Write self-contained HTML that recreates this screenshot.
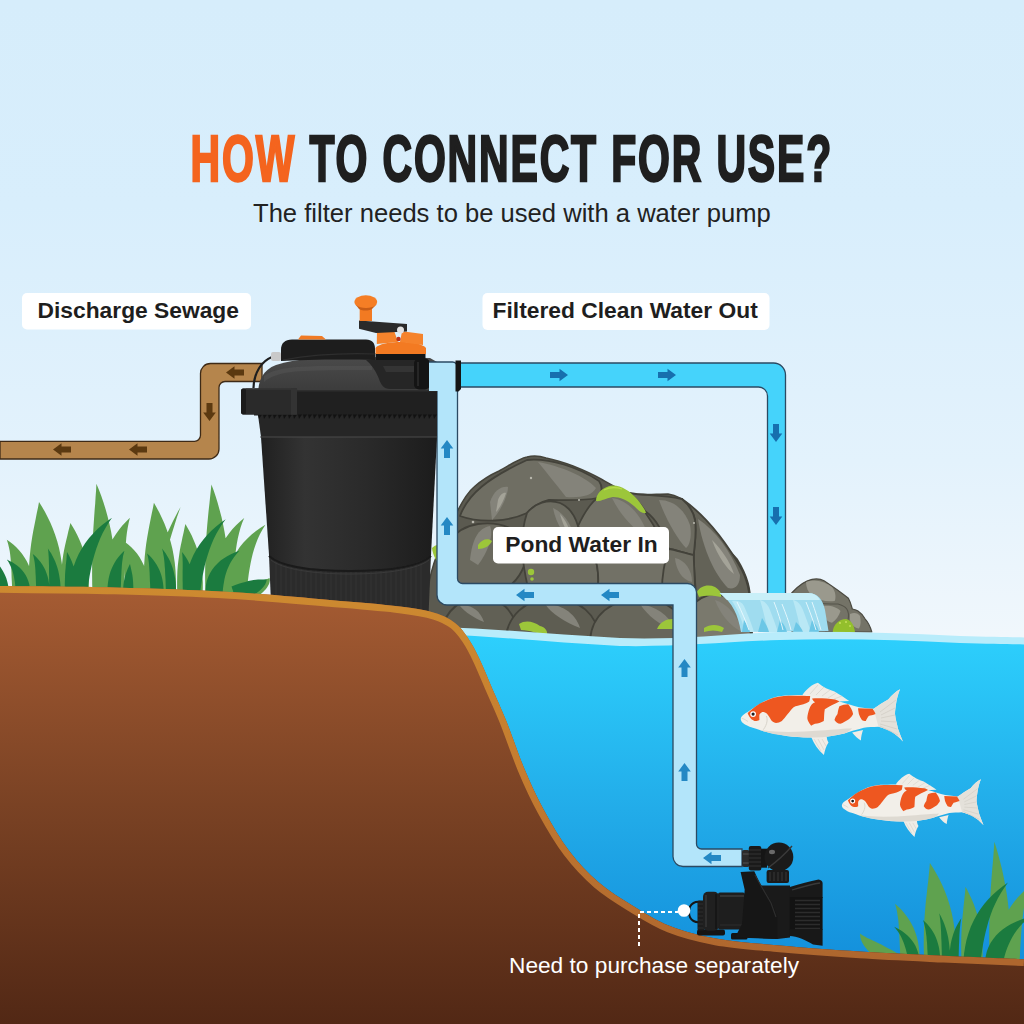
<!DOCTYPE html>
<html><head><meta charset="utf-8">
<style>
html,body{margin:0;padding:0;width:1024px;height:1024px;overflow:hidden;background:#dcedf9}
svg{display:block;position:absolute;left:0;top:0}
.t{font-family:"Liberation Sans",sans-serif}
</style></head><body>
<svg width="1024" height="1024" viewBox="0 0 1024 1024">
<defs>
 <linearGradient id="sky" x1="0" y1="0" x2="0" y2="1">
  <stop offset="0" stop-color="#d6edfb"/>
  <stop offset="0.2" stop-color="#d8eefc"/>
  <stop offset="0.45" stop-color="#e3f2fc"/>
  <stop offset="0.62" stop-color="#f0f7fc"/>
  <stop offset="1" stop-color="#f4f9fc"/>
 </linearGradient>
 <linearGradient id="water" x1="0" y1="0" x2="0" y2="1">
  <stop offset="0" stop-color="#2dd0fd"/>
  <stop offset="0.45" stop-color="#22ace9"/>
  <stop offset="1" stop-color="#0e84d6"/>
 </linearGradient>
 <linearGradient id="soil" x1="0" y1="0" x2="0" y2="1">
  <stop offset="0" stop-color="#a65c33"/>
  <stop offset="0.5" stop-color="#7a4224"/>
  <stop offset="1" stop-color="#522815"/>
 </linearGradient>
 <linearGradient id="body" x1="0" y1="0" x2="1" y2="0">
  <stop offset="0" stop-color="#202020"/>
  <stop offset="0.25" stop-color="#333333"/>
  <stop offset="0.6" stop-color="#2a2a2a"/>
  <stop offset="1" stop-color="#1c1c1c"/>
 </linearGradient>
 <linearGradient id="dome" x1="0" y1="0" x2="0" y2="1"><stop offset="0" stop-color="#4a4a4a"/><stop offset="0.5" stop-color="#3e3e3e"/><stop offset="1" stop-color="#333"/></linearGradient>
 <linearGradient id="fall" x1="0" y1="0" x2="0" y2="1">
  <stop offset="0" stop-color="#bdeaf6"/>
  <stop offset="1" stop-color="#5cc6ec"/>
 </linearGradient>
 <linearGradient id="rim" gradientUnits="userSpaceOnUse" x1="0" y1="586" x2="0" y2="960"><stop offset="0" stop-color="#cd8a30"/><stop offset="0.5" stop-color="#c47c30"/><stop offset="1" stop-color="#ae662e"/></linearGradient>
 <clipPath id="groundclip"><path d="M0,586 C19.2,586.2 76.7,586.5 115,587.5 C153.3,588.5 194.2,589.9 230,592 C265.8,594.1 301.7,597.6 330,600 C358.3,602.4 382.5,604.3 400,606.5 C417.5,608.7 425.8,610.2 435,613 C444.2,615.8 449.5,618.8 455,623 C460.5,627.2 463.9,632.0 468,638 C472.1,644.0 475.5,650.6 479.5,659 C483.5,667.4 487.8,678.2 492.2,688.4 C496.6,698.6 500.5,706.6 505.9,720 C511.3,733.4 518.1,753.8 524.4,768.8 C530.7,783.8 536.4,796.3 543.9,810 C551.4,823.7 560.2,839.0 569.3,851 C578.4,863.0 588.0,873.2 598.6,882.3 C609.2,891.4 620.9,898.4 632.8,905.7 C644.7,913.0 656.1,920.5 670,926 C683.9,931.5 697.7,935.2 716,938.5 C734.3,941.8 756.0,943.3 780,945.5 C804.0,947.7 832.7,949.8 860,951.5 C887.3,953.2 916.7,954.5 944,955.8 C971.3,957.1 1010.7,958.7 1024,959.3 L1024,1024 L0,1024 Z"/></clipPath>
 <g id="koi">
  <path d="M72.4,25 C76,20 82,14 87.9,12.8 C93,17 99,20 104.5,21.6 C110,25 115,28 119.2,31 L100,32 Z" fill="#efece6"/>
  <g stroke="#d6d2ca" stroke-width="0.7" fill="none"><path d="M80,24 L88,15 M86,25 L94,17 M92,26 L100,20 M98,28 L106,23 M104,29 L112,26"/></g>
  <path d="M81.2,67 C84,74 88,80 93.9,85.1 C95,80 96,76 98.5,72.5 C97,70 97,69 96.8,67 Z" fill="#efece6"/>
  <g stroke="#d6d2ca" stroke-width="0.7" fill="none"><path d="M84,69 L91,81 M88,69 L94,80 M92,69 L96,76"/></g>
  <path d="M122.1,62.5 C125,66 128,69 130.9,70.4 C131,67 132,63 133,60 Z" fill="#efece6"/>
  <path d="M11.3,47 C13,45 15,43.5 17.7,42.1 C22,39 26,36 29.4,34.3 C34,31 39,29 44,27.5 C49,26 54,25.5 58.7,25.5 C65,25 70,25 73.4,25 C85,25.5 98,28 109.4,31.4 C116,33.5 123,35.5 129,37.2 C134,38 139,38.5 143.6,38.7 C148,36 153,32 158.2,29.4 C162,25 166,21 170,19.2 C168,24 166.5,30 166,34.3 C165.5,38 165,41 165,44 C165.5,49 167,54 168,58.7 C169.5,63 171,67 172.9,71.4 C169,67 165,64 161.2,61.6 C157,59.5 152,57.5 148.5,56.8 C143,57 138,57.2 133.8,57.7 C127,59.5 120,61.5 114.3,63.6 C105,66 95,67.5 85,67.5 C80,67.5 76,67.5 73.4,67.5 C65,67 59,66.5 53.8,65.5 C46,64 40,63 34.3,61.6 C28,59.5 24,58 19.6,56.8 C16,55 13.5,53.5 11.8,51.9 C10.5,50 10.5,48.5 11.3,47 Z" fill="#f2efe9"/>
  <path d="M148.5,56.8 C152,57.5 157,59.5 161.2,61.6 C165,64 169,67 172.9,71.4 C171,67 169.5,63 168,58.7 C167,54 165.5,49 165,44 C165,41 165.5,38 166,34.3 C166.5,30 168,24 170,19.2 C166,21 162,25 158.2,29.4 C153,32 148,36 143.6,38.7 Z" fill="#e4e1da"/>
  <g stroke="#d0ccc3" stroke-width="0.7" fill="none"><path d="M150,42 L166,30 M151,45 L165,38 M151,48 L165,45 M151,51 L166,52 M150,54 L167,59 M150,56 L168,65"/></g>
  <path d="M30,60 C50,63 70,62 90,60.5 C105,59.5 115,58.5 122.1,58.2 C120,61 117,62.5 114.3,63.6 C105,66 95,67.5 85,67.5 C75,67.5 65,67 53.8,65.5 C45,64.5 37,62.5 30,60 Z" fill="#dedad2"/>
  <path d="M17.7,43.1 C23,38 29,33.5 34.3,31.4 C40,28.5 47,26.5 53.8,26 C62,25.5 72,25.8 80.2,26 C80,28 79.8,30 79.2,31.4 C77,32.8 75,33.6 73.4,34.3 C69,35.5 66,36 63.6,37.2 C61,39.5 59.5,42 57.7,44.1 C55.5,47 53.5,49.5 51.9,50.9 C50,52 48,52.9 46,52.9 C43.5,52.5 42,51 41.1,49.9 C39.5,47.5 38.5,45.5 37.2,44.1 C35.5,42.5 34,42 32.3,42.1 C30.5,43 29.6,44 29.4,45 C29.2,47 29.5,48.5 29.4,49.9 C27.5,51 26,51 24.5,50.9 C22,50 20.5,48.5 19.6,47 C18.5,45.5 18,44.3 17.7,43.1 Z" fill="#ee5720"/>
  <path d="M82.1,28.4 C90,28 98,28.5 105,29.5 C107,30 108.5,30.8 109.4,31.4 C104,34 99,36.5 94.8,39.2 C94,43 94.3,47 93.8,50.9 C91,52.5 88,53.5 85,53.8 C83.5,54.5 82,55.2 81.2,55.8 C79,53 77.5,50.5 77.3,48 C77.5,44.5 78.5,41.5 79.2,39.2 C80.5,36 82,33 85.1,32.3 C83.5,31 82.5,29.5 82.1,28.4 Z" fill="#ee5720"/>
  <path d="M109.4,36.3 C112,35 115.5,34.5 118.2,34.3 C120.5,37 122.5,40.5 123.1,44 C122,46 121,47.5 119.2,49 C116,51 113,52.8 110.4,53.8 C107.5,53.5 105.5,51.5 104.5,49.9 C105,47.5 106.5,45.5 107.5,44 C108,41 108.5,38.5 109.4,36.3 Z" fill="#ee5720"/>
  <path d="M128,38.2 C133,38.5 138,38.7 142.6,38.7 C144,40.5 145,42.5 145.5,44 C143,45 140.5,45.5 138.7,46 C137.5,47.5 136.5,49.5 135.8,50.9 C134.5,51 133,50.5 131.9,49.9 C130.5,48 129.5,46 128.9,44 C128.5,42 128.2,40 128,38.2 Z" fill="#ee5720"/>
  <path d="M36.3,46 C37.8,49 37.5,54 33.3,59.7" fill="none" stroke="#d8d4cb" stroke-width="1"/>
  <path d="M11.5,48 C14,49 16,50 18,51.5" fill="none" stroke="#d8d4cb" stroke-width="0.8"/>
  <circle cx="23.1" cy="44.1" r="2.9" fill="#fff"/>
  <circle cx="23.1" cy="44.1" r="1.6" fill="#1e1e1e"/>
 </g>
 <path id="arrU" d="M0,-9 L6.3,-0.5 L3,-0.5 L3,9 L-3,9 L-3,-0.5 L-6.3,-0.5 Z"/>
</defs>
<rect width="1024" height="1024" fill="url(#sky)"/>
<!-- ROCKS -->
<g id="rocks" stroke-linejoin="round">
 <path d="M425,640 L428,590 C431,565 440,545 457,512 C463,500 468,492 474,487 C482,480 490,475 499,471 C510,465 518,459 527,457 C535,455 540,456 546,458 C556,460 565,463 573,466 C583,470 592,474 601,479 C610,484 620,490 629,493 C640,496 655,494 668,494 C675,495 678,497 682,499 C688,504 693,509 698,514 C705,522 711,530 717,538 C725,546 731,552 737,559 C742,567 746,576 748,583 C750,590 752,600 752,640 Z" fill="#5b5a50" stroke="#45443b" stroke-width="1.5"/>
 <g stroke="#43423a" stroke-width="1.8">
  <!-- A top big -->
  <path d="M460,516 C468,494 488,478 527,460 C550,458 578,467 599,481 C603,487 602,493 597,498 C585,501 565,500 549,500 C536,503 531,509 527,513 C510,521 482,524 460,516 Z" fill="#6f6e63"/>
  <!-- B left -->
  <path d="M438,575 C442,548 452,528 478,524 C503,521 518,530 525,542 C530,562 520,582 500,592 C478,598 452,592 438,575 Z" fill="#6a695e"/>
  <!-- C middle -->
  <path d="M527,513 C535,503 548,499 560,503 C570,507 575,516 578,526 C590,541 600,561 598,586 L528,588 C522,562 519,537 527,513 Z" fill="#6d6c61"/>
  <!-- D right-middle -->
  <path d="M578,526 C585,511 592,501 600,496 C615,491 635,499 645,512 C655,526 665,546 670,566 C672,576 670,584 665,586 L598,586 C600,561 590,541 578,526 Z" fill="#727166"/>
  <!-- E right big -->
  <path d="M682,499 C705,515 725,540 742,570 C748,582 751,592 752,640 L700,640 C697,600 694,580 693.75,555 C694,548 697,535 695,520 C693,510 688,504 682,499 Z" fill="#636257"/>
  <path d="M629,493 C645,496 660,494 682,499 C688,504 693,510 695,520 C697,535 694,548 693.75,555 C685,553 675,550 668.75,548.75 C664,535 658,520 645,511 C640,503 635,498 629,493 Z" fill="#6b6a5f"/>
  <path d="M668.75,548.75 C675,550 685,553 693.75,555 C694,570 695,580 695,590 L662,590 C662,575 665,560 668.75,548.75 Z" fill="#6f6e63"/>
  <!-- bottom row -->
  <path d="M440,640 C442,618 452,602 475,598 C500,596 515,608 520,640 Z" fill="#616055"/>
  <path d="M505,640 C508,615 525,600 550,598 C580,598 598,615 600,640 Z" fill="#5e5d52"/>
  <path d="M590,640 C592,615 610,600 640,598 C668,598 685,615 690,640 Z" fill="#67665b"/>
  <path d="M680,640 C682,612 695,596 715,594 C735,596 748,612 752,640 Z" fill="#7a796d"/>
 </g>
 <!-- highlights -->
 <g fill="#84837a">
  <path d="M538,462 C560,466 585,476 596,488 C592,496 580,498 566,497 C556,484 546,472 538,462 Z"/>
  <path d="M470,560 C472,540 478,528 490,526 C494,535 488,552 478,565 Z"/>
  <path d="M490,502 C494,490 502,486 508,487 C508,496 500,512 492,520 Z"/>
  <path d="M553,508 C566,514 574,528 577,548 C566,540 556,524 553,508 Z"/>
  <path d="M612,498 C628,500 642,515 650,540 C636,532 620,515 612,498 Z"/>
  <path d="M659,500 C672,500 684,508 690,525 C692,535 690,545 686,548 C678,540 666,520 659,500 Z"/>
  <path d="M698,519 C715,530 730,550 740,575 C740,585 735,590 728,588 C715,575 703,550 698,519 Z"/>
  <path d="M675,558 C685,560 692,570 692,582 C682,580 676,570 675,558 Z"/>
  <path d="M545,604 C560,604 575,612 580,628 C565,622 552,614 545,604 Z"/>
  <path d="M640,604 C655,606 668,614 676,630 C660,626 648,616 640,604 Z"/>
  <path d="M715,600 C728,604 738,616 742,632 C730,626 720,614 715,600 Z"/>
  <path d="M460,606 C470,604 480,610 484,622 C474,618 465,612 460,606 Z"/>
 </g>
 <g fill="#a4a398">
  <path d="M498,500 C500,494 504,492 506,493 C504,500 500,508 496,512 Z"/>
  <path d="M560,514 C566,520 570,530 572,538 C566,532 562,522 560,514 Z"/>
  <path d="M712,540 C722,550 730,562 734,574 C728,570 718,557 712,540 Z"/>
 </g>
 <!-- moss -->
 <g fill="#9cc63a">
  <path d="M596,501 C596,493 603,487 612,485.5 C621,485 630,491 637,499 C641,504 645,509 646,513 C642,514 638,510 634,506 C627,500 620,497 613,497 C606,498 600,502 596,501 Z"/>
  <path d="M604,490 C610,487 616,487 622,489" fill="none" stroke="#b7dc4a" stroke-width="1.2"/>
  <path d="M432,548 C436,544 440,544 441,548 L441,565 C437,563 433,556 432,548 Z"/>
  <path d="M478,545 C482,539 488,538 492,541 C490,546 484,549 478,549 Z"/>
  <circle cx="531" cy="572" r="3.2"/>
  <circle cx="532" cy="579" r="1.8"/>
  <path d="M519,624 C525,620 533,621 540,626 C545,627 548,631 547,635 C538,634 530,630 521,630 Z"/>
  <path d="M697,592 C700,586 708,584 715,587 C720,590 722,594 721,597 C715,596 707,595 699,597 Z"/>
  <path d="M704,628 C710,624 718,624 724,628 L722,632 C716,630 710,630 704,632 Z"/>
  <path d="M657,629 C660,622 666,619 673,619 L673,629 Z"/>
 </g>
 <!-- small specks -->
 <g fill="#b9b8ae">
  <circle cx="531" cy="478" r="1.2"/><circle cx="473" cy="522" r="1.3"/><circle cx="694" cy="523" r="1"/><circle cx="579" cy="500" r="1"/>
 </g>
 <!-- right small rock -->
 <path d="M791.7,593 C797,587 804,581 812,579.3 C817,578.5 821,579 824,580.7 C832,586 842,593 848.4,598.3 C850.5,602 851.5,606 852.3,609 C854.5,609.5 856.5,610 858,611 C861,613 863.5,616 865,618.8 C868,622 870.5,627 871.8,632 L792,632 Z" fill="#747367" stroke="#4b4a41" stroke-width="1.2"/>
 <path d="M806,582 C815,579 824,581 832,587 C836,592 836,598 834.7,601 C826,602 818,600 812,596 C808,592 806,587 806,582 Z" fill="#9a998d"/>
 <path d="M823,606 C830,605 837,607 840.5,611 C839,616 836,620 832,622.7 C827,622 824,618 823,612 Z" fill="#9a998d"/>
 <path d="M850,614 C854,612 858,613 860,616 C861,621 861,625 859,628.6 C855,628 851,625 850,620 Z" fill="#9a998d"/>
 <g fill="none" stroke="#55544a" stroke-width="1.1">
  <path d="M818,603 C822,604 830,604 838,604 C846,606 850,610 848,620 C846,626 844,630 843,632"/>
  <path d="M820,604 C821,612 822,622 826,632"/>
 </g>
 <path d="M832.7,632 C833,625 839,619 846,619 C851,620 854,625 855,632 Z" fill="#93bf2c"/>
 <g fill="#c4e05a"><circle cx="840" cy="623" r="1"/><circle cx="846" cy="622" r="1"/><circle cx="850" cy="626" r="0.9"/></g>
</g>
<!-- WATERFALL -->
<path d="M719.6,593 L808,593 C818,593 823,600 825,610 L828.5,631 L741,632 C738,615 733,603 719.6,593 Z" fill="#9fdcef"/>
<path d="M719.6,593 L808,593 C814,593 818,596 820,600 L727,600 C724,597 722,595 719.6,593 Z" fill="#c9eff8"/>
<g fill="#b9e8f5">
 <path d="M732,601 C738,600 742,602 744,606 C748,615 752,625 754,632 L745,632 C742,620 738,610 732,601 Z"/>
 <path d="M760,600 C765,601 768,605 770,610 C773,618 776,626 778,632 L768,632 C766,622 763,610 760,600 Z"/>
 <path d="M793,600 C798,601 801,605 803,610 C806,618 809,626 811,632 L801,632 C799,622 796,610 793,600 Z"/>
</g>
<g fill="#6cc7e6">
 <path d="M744,620 C747,624 749,628 750,632 L742,632 Z"/>
 <path d="M762,618 C766,624 768,628 769,632 L758,632 Z"/>
 <path d="M780,620 C784,624 786,628 787,632 L777,632 Z"/>
 <path d="M796,622 C800,626 802,629 803,632 L793,632 Z"/>
 <path d="M812,620 C816,624 818,628 819,632 L809,632 Z"/>
</g>
<g fill="none" stroke="#eafaff" stroke-width="1" opacity="0.9">
 <path d="M737,602 C742,612 746,622 749,630"/>
 <path d="M774,602 C778,612 781,622 783,630"/>
 <path d="M782,604 C786,614 789,622 791,630"/>
 <path d="M806,602 C810,612 813,620 816,630"/>
 <path d="M812,602 C815,610 818,620 821,630"/>
</g>
<!-- CYAN PIPE -->
<path d="M460,363 H773.5 A12,12 0 0 1 785.5,375 V593 H767.5 V396 A9,9 0 0 0 758.5,387 H460 Z" fill="#45d3fb"/>
<path d="M460,363 H773.5 A12,12 0 0 1 785.5,375 V593 M767.5,593 V396 A9,9 0 0 0 758.5,387 H460" fill="none" stroke="#2b4a63" stroke-width="1.3"/>
<g fill="#176fae">
 <use href="#arrU" transform="translate(559,375) rotate(90)"/>
 <use href="#arrU" transform="translate(667,375) rotate(90)"/>
 <use href="#arrU" transform="translate(776,433) rotate(180)"/>
 <use href="#arrU" transform="translate(776,516) rotate(180)"/>
</g>

<!-- WATER -->
<path d="M440,627 C500,629 560,635 620,638 C680,640 720,634 780,632 C840,631 900,633 960,636 C990,637 1010,637 1024,637.5 L1024,1024 L440,1024 Z" fill="#b8ecfb"/>
<path d="M440,634 C500,637 560,643 620,646 C680,647 720,642 780,640 C840,638 900,640 960,643 C990,644 1010,644 1024,644.5 L1024,1024 L440,1024 Z" fill="url(#water)"/>

<!-- FISH -->
<use href="#koi" transform="translate(730,670)"/>
<use href="#koi" transform="translate(832.5,762.6) scale(0.873)"/>

<!-- LIGHT PIPE -->
<path d="M437,388 V595 A10,10 0 0 0 447,605 H673 V856 A10,10 0 0 0 683,866.5 H742 V849 H701.5 A5,5 0 0 1 696.5,844 V592 A9,9 0 0 0 687.5,583.5 H462.5 A5,5 0 0 1 457.5,578.5 V388 Z" fill="#b3e5fa" stroke="#2b4a63" stroke-width="1.3"/>

<g fill="#2488c4">
 <use href="#arrU" transform="translate(447,449)"/>
 <use href="#arrU" transform="translate(447,526)"/>
 <use href="#arrU" transform="translate(525,595) rotate(-90)"/>
 <use href="#arrU" transform="translate(610,595) rotate(-90)"/>
 <use href="#arrU" transform="translate(684.5,668)"/>
 <use href="#arrU" transform="translate(684.5,772)"/>
 <use href="#arrU" transform="translate(712,858) rotate(-90)"/>
</g>

<!-- BROWN PIPE -->
<path d="M0,441.3 H194 A6,6 0 0 0 200.5,435.3 V374 A10,10 0 0 1 210.5,363.5 H262 V381.5 H225 A6,6 0 0 0 219,387.5 V449 A10,10 0 0 1 209,459 H0 Z" fill="#b5854c" stroke="#3e2a16" stroke-width="1.3"/>
<g fill="#5b3910">
 <use href="#arrU" transform="translate(62,449.5) rotate(-90)"/>
 <use href="#arrU" transform="translate(138,449.5) rotate(-90)"/>
 <use href="#arrU" transform="translate(235,372.5) rotate(-90)"/>
 <use href="#arrU" transform="translate(209.5,412) rotate(180)"/>
</g>

<!-- GRASS LEFT -->
<g id="grassL">
<path fill="#5fa24f" d="M33.5,594.0 L33.6,588.9 L33.3,583.9 L32.7,579.0 L31.7,574.3 L30.4,569.7 L28.8,565.4 L26.8,561.3 L24.5,557.4 L22.0,553.7 L19.3,550.4 L16.3,547.3 L13.3,544.5 L10.1,542.0 L6.8,539.7 L6.8,539.7 L8.0,543.4 L8.9,547.2 L9.7,551.0 L10.2,554.7 L10.6,558.5 L10.9,562.2 L11.1,565.9 L11.3,569.7 L11.5,573.5 L11.6,577.4 L11.8,581.3 L12.0,585.4 L12.2,589.6 L12.5,594.0Z M62.8,594.0 L63.1,585.8 L63.0,577.8 L62.5,570.1 L61.7,562.6 L60.5,555.3 L59.1,548.3 L57.3,541.5 L55.2,535.0 L52.9,528.8 L50.4,522.8 L47.7,517.2 L44.9,511.8 L42.0,506.8 L39.0,502.0 L39.0,502.0 L38.0,507.5 L36.8,513.1 L35.7,518.8 L34.5,524.7 L33.3,530.8 L32.2,537.1 L31.2,543.5 L30.4,550.1 L29.7,556.9 L29.2,563.8 L28.8,571.1 L28.7,578.5 L28.8,586.1 L29.2,594.0Z M88.7,594.0 L88.9,587.7 L88.8,581.6 L88.5,575.6 L87.8,569.8 L87.0,564.2 L85.8,558.8 L84.5,553.6 L82.9,548.5 L81.1,543.7 L79.1,539.1 L77.1,534.8 L74.9,530.6 L72.7,526.7 L70.4,523.0 L70.4,523.0 L69.4,527.2 L68.3,531.5 L67.3,535.9 L66.2,540.5 L65.1,545.2 L64.1,550.0 L63.2,554.9 L62.5,560.0 L61.9,565.3 L61.4,570.7 L61.1,576.3 L61.0,582.0 L61.0,587.9 L61.4,594.0Z M115.5,594.0 L115.7,584.3 L115.6,574.8 L115.2,565.6 L114.6,556.7 L113.6,548.0 L112.5,539.7 L111.1,531.6 L109.4,523.8 L107.6,516.4 L105.6,509.2 L103.5,502.4 L101.2,495.8 L98.8,489.6 L96.4,483.7 L96.4,483.7 L96.1,490.0 L95.6,496.6 L95.2,503.4 L94.6,510.4 L94.1,517.7 L93.6,525.1 L93.1,532.9 L92.7,540.8 L92.4,549.0 L92.2,557.5 L92.1,566.2 L92.1,575.2 L92.2,584.5 L92.5,594.0Z M123.5,594.0 L123.9,587.7 L124.1,581.5 L124.4,575.6 L124.6,569.8 L124.8,564.2 L125.0,558.8 L125.2,553.4 L125.5,548.1 L125.9,542.9 L126.3,537.8 L126.9,532.7 L127.7,527.7 L128.7,522.7 L129.9,517.8 L129.9,517.8 L126.2,521.4 L122.6,525.2 L119.2,529.4 L116.0,533.9 L112.9,538.7 L110.2,543.8 L107.7,549.3 L105.6,555.0 L103.8,560.9 L102.3,567.1 L101.3,573.6 L100.6,580.2 L100.3,587.0 L100.5,594.0Z M148.6,594.0 L148.7,588.9 L148.4,583.8 L147.8,578.9 L146.8,574.2 L145.5,569.6 L143.8,565.3 L141.8,561.2 L139.6,557.3 L137.0,553.6 L134.2,550.3 L131.3,547.2 L128.2,544.5 L125.0,541.9 L121.7,539.7 L121.7,539.7 L122.6,543.5 L123.3,547.3 L123.8,551.1 L124.2,554.8 L124.3,558.6 L124.5,562.3 L124.5,566.0 L124.6,569.8 L124.6,573.6 L124.7,577.4 L124.8,581.4 L124.9,585.5 L125.1,589.7 L125.5,594.0Z M175.8,594.0 L176.0,585.9 L175.9,578.0 L175.5,570.4 L174.8,562.9 L173.7,555.8 L172.4,548.8 L170.7,542.1 L168.8,535.7 L166.7,529.5 L164.4,523.6 L161.9,518.0 L159.3,512.6 L156.6,507.6 L153.9,502.8 L153.9,502.8 L152.9,508.2 L151.7,513.7 L150.6,519.3 L149.4,525.2 L148.3,531.2 L147.2,537.4 L146.2,543.7 L145.4,550.3 L144.7,557.1 L144.2,564.0 L143.9,571.2 L143.8,578.6 L143.9,586.2 L144.2,594.0Z M153.5,595.0 L155.8,587.4 L158.0,580.1 L160.1,572.9 L162.1,565.9 L164.1,559.1 L166.1,552.6 L168.0,546.2 L169.9,540.0 L171.7,534.0 L173.5,528.2 L175.3,522.5 L177.0,517.1 L178.8,511.9 L180.6,506.9 L180.6,506.9 L178.0,511.6 L175.4,516.4 L172.8,521.5 L170.2,526.9 L167.6,532.4 L165.1,538.2 L162.6,544.3 L160.1,550.5 L157.7,557.0 L155.3,563.8 L153.0,570.7 L150.8,577.9 L148.6,585.3 L146.5,593.0Z M202.6,594.0 L202.8,587.8 L202.8,581.7 L202.4,575.9 L201.8,570.2 L201.0,564.6 L199.9,559.3 L198.6,554.2 L197.2,549.2 L195.5,544.5 L193.6,539.9 L191.7,535.6 L189.6,531.5 L187.5,527.7 L185.4,524.0 L185.4,524.0 L184.5,528.1 L183.6,532.4 L182.6,536.7 L181.7,541.2 L180.7,545.8 L179.8,550.6 L179.1,555.4 L178.4,560.5 L177.8,565.7 L177.4,571.0 L177.2,576.5 L177.1,582.1 L177.1,588.0 L177.4,594.0Z M228.6,594.0 L228.8,584.4 L228.7,575.0 L228.3,565.9 L227.7,557.0 L226.9,548.5 L225.9,540.2 L224.6,532.2 L223.1,524.4 L221.5,517.0 L219.6,509.9 L217.7,503.1 L215.7,496.5 L213.6,490.3 L211.4,484.4 L211.4,484.4 L210.8,490.6 L210.1,497.1 L209.4,503.8 L208.6,510.8 L207.9,518.0 L207.2,525.4 L206.6,533.1 L206.1,541.0 L205.7,549.2 L205.4,557.6 L205.2,566.3 L205.1,575.3 L205.2,584.5 L205.4,594.0Z M232.5,594.0 L232.8,587.7 L233.1,581.7 L233.5,575.8 L233.9,570.1 L234.3,564.5 L234.8,559.0 L235.4,553.7 L236.1,548.4 L236.9,543.2 L237.9,538.0 L239.1,532.9 L240.5,527.8 L242.2,522.8 L244.2,517.9 L244.2,517.9 L240.1,521.4 L236.1,525.2 L232.3,529.3 L228.8,533.8 L225.4,538.6 L222.4,543.7 L219.7,549.1 L217.3,554.8 L215.3,560.8 L213.8,567.0 L212.6,573.5 L211.8,580.1 L211.4,587.0 L211.5,594.0Z M246.5,594.4 L247.0,588.8 L247.6,583.4 L248.2,578.2 L248.9,573.1 L249.7,568.2 L250.6,563.3 L251.6,558.4 L252.8,553.5 L254.2,548.7 L255.8,543.9 L257.7,539.0 L259.9,534.2 L262.5,529.4 L265.4,524.7 L265.4,524.7 L260.6,527.7 L256.0,530.9 L251.6,534.5 L247.4,538.4 L243.5,542.6 L239.8,547.1 L236.6,552.0 L233.6,557.2 L231.2,562.7 L229.1,568.5 L227.5,574.5 L226.3,580.7 L225.7,587.1 L225.5,593.6Z M250.9,599.6 L253.7,598.3 L256.3,596.9 L258.7,595.4 L260.8,593.9 L262.8,592.3 L264.5,590.6 L266.0,589.0 L267.2,587.3 L268.2,585.6 L269.0,583.9 L269.5,582.3 L269.8,580.7 L269.8,579.2 L269.5,578.0 L269.5,578.0 L268.4,578.5 L267.3,578.9 L266.0,579.3 L264.7,579.7 L263.3,580.1 L261.8,580.5 L260.1,581.1 L258.4,581.8 L256.5,582.5 L254.5,583.4 L252.3,584.5 L250.1,585.6 L247.7,586.9 L245.1,588.4Z"/>
<path fill="#1b7b3f" d="M30.0,594.0 L30.1,590.6 L29.8,587.3 L29.2,584.0 L28.3,580.9 L27.1,577.9 L25.6,575.1 L23.9,572.4 L21.9,570.0 L19.8,567.7 L17.4,565.7 L14.9,563.9 L12.3,562.3 L9.6,560.9 L6.8,559.6 L6.8,559.6 L8.5,562.1 L9.9,564.7 L11.1,567.2 L12.1,569.8 L12.9,572.2 L13.5,574.7 L14.0,577.1 L14.4,579.4 L14.8,581.8 L15.1,584.1 L15.3,586.5 L15.6,588.9 L15.8,591.4 L16.0,594.0Z M9.0,593.5 L8.9,590.8 L8.6,588.2 L8.2,585.7 L7.7,583.2 L7.1,580.9 L6.4,578.6 L5.6,576.4 L4.7,574.4 L3.7,572.4 L2.6,570.5 L1.5,568.7 L0.4,567.0 L-0.8,565.5 L-2.0,564.0 L-2.0,564.0 L-2.2,565.9 L-2.4,567.8 L-2.7,569.7 L-3.0,571.7 L-3.2,573.8 L-3.4,575.8 L-3.6,578.0 L-3.7,580.2 L-3.8,582.4 L-3.8,584.7 L-3.7,587.0 L-3.6,589.5 L-3.3,591.9 L-3.0,594.5Z M49.5,594.0 L49.6,590.3 L49.4,586.7 L49.0,583.2 L48.4,579.8 L47.6,576.5 L46.6,573.4 L45.4,570.3 L44.0,567.5 L42.4,564.8 L40.7,562.3 L38.8,560.0 L36.9,557.8 L34.9,555.8 L32.8,554.0 L32.8,554.0 L33.5,556.6 L34.1,559.3 L34.6,561.9 L34.9,564.6 L35.2,567.4 L35.4,570.1 L35.5,572.9 L35.7,575.7 L35.8,578.5 L35.9,581.4 L36.0,584.4 L36.2,587.5 L36.3,590.7 L36.5,594.0Z M60.5,594.0 L60.6,589.9 L60.5,586.0 L60.2,582.1 L59.7,578.4 L59.1,574.8 L58.4,571.3 L57.5,567.9 L56.4,564.7 L55.2,561.6 L53.9,558.7 L52.5,555.9 L51.1,553.3 L49.5,550.9 L47.9,548.6 L47.9,548.6 L48.3,551.3 L48.5,554.2 L48.7,557.0 L48.8,560.0 L48.9,563.0 L49.0,566.1 L49.0,569.2 L49.0,572.5 L49.1,575.8 L49.1,579.2 L49.2,582.8 L49.2,586.4 L49.4,590.1 L49.5,594.0Z M77.0,594.0 L77.1,590.3 L77.0,586.6 L76.8,583.1 L76.5,579.7 L76.0,576.3 L75.4,573.1 L74.7,570.0 L73.8,567.1 L72.8,564.2 L71.8,561.5 L70.7,558.9 L69.5,556.5 L68.3,554.2 L67.0,552.0 L67.0,552.0 L66.8,554.5 L66.6,557.0 L66.4,559.7 L66.1,562.4 L65.8,565.1 L65.6,568.0 L65.3,570.9 L65.1,573.9 L65.0,577.0 L64.9,580.2 L64.8,583.5 L64.8,586.9 L64.9,590.4 L65.0,594.0Z M87.0,594.6 L87.7,588.4 L88.6,582.4 L89.5,576.5 L90.6,570.7 L91.8,565.1 L93.1,559.6 L94.6,554.2 L96.3,548.8 L98.2,543.5 L100.3,538.2 L102.7,533.0 L105.5,527.9 L108.6,522.8 L112.0,517.8 L112.0,517.8 L107.0,521.3 L102.1,525.0 L97.5,529.1 L93.2,533.4 L89.1,538.1 L85.3,543.1 L81.8,548.5 L78.7,554.1 L76.0,560.0 L73.7,566.3 L71.9,572.7 L70.5,579.4 L69.5,586.3 L69.0,593.4Z M120.5,594.0 L120.7,590.4 L120.8,586.9 L121.0,583.6 L121.1,580.3 L121.2,577.1 L121.4,574.0 L121.5,570.9 L121.7,567.9 L121.9,565.0 L122.2,562.1 L122.6,559.2 L123.0,556.3 L123.7,553.5 L124.4,550.7 L124.4,550.7 L122.3,552.7 L120.2,554.9 L118.3,557.3 L116.4,559.8 L114.7,562.6 L113.1,565.5 L111.7,568.6 L110.4,571.8 L109.4,575.2 L108.6,578.7 L108.0,582.4 L107.6,586.2 L107.4,590.0 L107.5,594.0Z M133.0,594.2 L133.2,591.6 L133.3,589.0 L133.3,586.6 L133.2,584.2 L133.1,581.9 L132.9,579.6 L132.7,577.5 L132.4,575.3 L132.0,573.3 L131.6,571.3 L131.2,569.4 L130.8,567.5 L130.4,565.7 L130.0,564.0 L130.0,564.0 L129.2,565.6 L128.4,567.3 L127.6,569.0 L126.9,570.9 L126.2,572.8 L125.5,574.8 L124.9,576.9 L124.4,579.1 L123.9,581.4 L123.6,583.7 L123.3,586.1 L123.1,588.6 L123.0,591.2 L123.0,593.8Z M163.5,594.0 L163.6,590.3 L163.4,586.6 L163.0,583.1 L162.4,579.6 L161.6,576.3 L160.6,573.1 L159.4,570.1 L158.0,567.2 L156.5,564.4 L154.8,561.9 L153.0,559.5 L151.1,557.3 L149.1,555.3 L147.0,553.4 L147.0,553.4 L147.7,556.0 L148.3,558.7 L148.7,561.4 L149.0,564.1 L149.2,566.9 L149.4,569.7 L149.6,572.5 L149.7,575.3 L149.8,578.2 L149.9,581.2 L150.1,584.3 L150.2,587.4 L150.3,590.6 L150.5,594.0Z M176.0,594.0 L176.1,589.9 L175.9,585.9 L175.6,582.1 L175.1,578.3 L174.4,574.7 L173.6,571.2 L172.6,567.8 L171.4,564.6 L170.2,561.5 L168.7,558.6 L167.2,555.9 L165.6,553.3 L163.9,550.9 L162.1,548.6 L162.1,548.6 L162.8,551.4 L163.3,554.2 L163.8,557.1 L164.2,560.1 L164.5,563.1 L164.7,566.2 L165.0,569.3 L165.1,572.6 L165.3,575.9 L165.5,579.3 L165.6,582.8 L165.7,586.4 L165.9,590.2 L166.0,594.0Z M195.0,594.0 L195.1,590.2 L195.0,586.5 L194.7,582.9 L194.2,579.4 L193.6,576.1 L192.8,572.8 L191.9,569.7 L190.8,566.7 L189.5,563.9 L188.2,561.2 L186.8,558.7 L185.2,556.3 L183.6,554.1 L182.0,552.0 L182.0,552.0 L182.3,554.6 L182.5,557.2 L182.6,559.9 L182.7,562.7 L182.7,565.5 L182.7,568.3 L182.6,571.2 L182.6,574.2 L182.6,577.3 L182.6,580.4 L182.7,583.7 L182.7,587.0 L182.8,590.5 L183.0,594.0Z M200.0,594.6 L200.7,588.4 L201.6,582.4 L202.5,576.6 L203.6,571.0 L204.8,565.4 L206.2,560.0 L207.8,554.7 L209.5,549.4 L211.5,544.2 L213.7,539.0 L216.2,534.0 L219.1,528.9 L222.2,524.0 L225.7,519.2 L225.7,519.2 L220.8,522.7 L216.1,526.4 L211.6,530.5 L207.4,534.8 L203.4,539.4 L199.8,544.3 L196.4,549.6 L193.4,555.1 L190.8,560.9 L188.6,567.0 L186.8,573.3 L185.5,579.8 L184.5,586.5 L184.0,593.4Z M222.5,594.0 L222.8,590.8 L223.1,587.8 L223.5,584.8 L224.0,581.9 L224.5,579.0 L225.2,576.1 L226.1,573.1 L227.1,570.1 L228.4,566.9 L229.9,563.7 L231.8,560.5 L234.0,557.2 L236.5,553.9 L239.4,550.7 L239.4,550.7 L235.3,552.3 L231.4,554.0 L227.6,556.0 L224.0,558.2 L220.6,560.6 L217.5,563.4 L214.6,566.4 L212.1,569.7 L210.0,573.3 L208.2,577.1 L206.8,581.1 L205.9,585.3 L205.5,589.6 L205.5,594.0Z M236.5,601.6 L240.5,600.5 L244.2,599.2 L247.6,597.8 L250.8,596.4 L253.7,594.8 L256.3,593.2 L258.6,591.5 L260.7,589.8 L262.4,588.0 L263.9,586.2 L265.1,584.4 L266.0,582.6 L266.5,580.9 L266.7,579.4 L266.7,579.4 L265.2,579.5 L263.7,579.5 L262.0,579.5 L260.1,579.5 L258.1,579.6 L255.9,579.8 L253.5,580.1 L251.0,580.6 L248.2,581.1 L245.3,581.9 L242.1,582.7 L238.8,583.8 L235.3,585.0 L231.5,586.4Z"/>
</g>

<!-- FILTER -->
<g id="filter">
 <!-- base -->
 <path d="M269,555 L431,555 L428,628 L272,628 Z" fill="#2b2b2b"/>
 <g stroke="#363636" stroke-width="0.7">
  <path d="M276,560 V628 M281,560 V628 M286,560 V628 M291,560 V628 M296,560 V628 M301,560 V628 M306,560 V628 M311,560 V628 M316,560 V628 M321,560 V628 M326,560 V628 M331,560 V628 M336,560 V628 M341,560 V628 M346,560 V628 M351,560 V628 M356,560 V628 M361,560 V628 M366,560 V628 M371,560 V628 M376,560 V628 M381,560 V628 M386,560 V628 M391,560 V628 M396,560 V628 M401,560 V628 M406,560 V628 M411,560 V628 M416,560 V628 M421,560 V628"/>
 </g>
 <!-- main body -->
 <path d="M261,437 L437,437 L431,555 C420,565 390,570 350,570 C310,570 280,565 269,555 Z" fill="url(#body)"/>
 <path d="M269,556 C280,566 310,571 350,571 C390,571 420,566 431,556" fill="none" stroke="#1a1a1a" stroke-width="2.2"/>
 <path d="M271,560 C282,569 312,574 350,574 C388,574 418,569 429,560" fill="none" stroke="#3a3a3a" stroke-width="1"/>
 <!-- upper band below strap -->
 <path d="M258,415 L437,415 L437,437 L261,437 Z" fill="#262626"/>
 <path d="M260,437 L437,437" stroke="#4a4a4a" stroke-width="1"/>
 <!-- dome -->
 <path d="M258,415 L258,395 C258,380 263,370 276,365 C286,361.5 298,360 310,359 L368,357 L430,358 L437,362 L437,415 Z" fill="url(#dome)"/>
 <path d="M264,376 C275,368 295,366 330,366 L372,366 L372,370 C340,370 300,370 285,373 C275,375 268,378 264,382 Z" fill="#555" opacity="0.5"/>
 <!-- outlet elbow -->
 <path d="M366,360 L418,360 L418,389 L390,389 C384,389 381,385 379,379 C376,371 371,364 366,360 Z" fill="#262626"/>
 <path d="M383,366 L418,366 L418,372 L386,372 Z" fill="#3a3a3a" opacity="0.7"/>
 <rect x="414" y="358.5" width="16" height="31" rx="5" fill="#141414"/>
 <path d="M418,362 V386" stroke="#333" stroke-width="1.2"/>
 <!-- strap -->
 <rect x="254" y="390.5" width="183" height="25" fill="#202020"/>
 <path d="M254,391 H437" stroke="#2f2f2f" stroke-width="1"/>
 <path d="M258,414.5 L262,414.5 L259,419 Z M263,414.5 L267,414.5 L264,419 Z M268,414.5 L272,414.5 L269,419 Z M273,414.5 L277,414.5 L274,419 Z M278,414.5 L282,414.5 L279,419 Z M283,414.5 L287,414.5 L284,419 Z M288,414.5 L292,414.5 L289,419 Z M293,414.5 L297,414.5 L294,419 Z M298,414.5 L302,414.5 L299,419 Z M303,414.5 L307,414.5 L304,419 Z M308,414.5 L312,414.5 L309,419 Z M313,414.5 L317,414.5 L314,419 Z M318,414.5 L322,414.5 L319,419 Z M323,414.5 L327,414.5 L324,419 Z M328,414.5 L332,414.5 L329,419 Z M333,414.5 L337,414.5 L334,419 Z M338,414.5 L342,414.5 L339,419 Z M343,414.5 L347,414.5 L344,419 Z M348,414.5 L352,414.5 L349,419 Z M353,414.5 L357,414.5 L354,419 Z M358,414.5 L362,414.5 L359,419 Z M363,414.5 L367,414.5 L364,419 Z M368,414.5 L372,414.5 L369,419 Z M373,414.5 L377,414.5 L374,419 Z M378,414.5 L382,414.5 L379,419 Z M383,414.5 L387,414.5 L384,419 Z M388,414.5 L392,414.5 L389,419 Z M393,414.5 L397,414.5 L394,419 Z M398,414.5 L402,414.5 L399,419 Z M403,414.5 L407,414.5 L404,419 Z M408,414.5 L412,414.5 L409,419 Z M413,414.5 L417,414.5 L414,419 Z M418,414.5 L422,414.5 L419,419 Z M423,414.5 L427,414.5 L424,419 Z M428,414.5 L432,414.5 L429,419 Z M433,414.5 L437,414.5 L434,419 Z" fill="#121212"/>
 <rect x="242" y="388.2" width="55" height="26.5" rx="1" fill="#2a2a2a"/>
 <rect x="241" y="389" width="5" height="25" rx="1" fill="#1b1b1b"/>
 <rect x="291" y="388.2" width="6" height="26.5" fill="#333"/>
 <path d="M246,389 H291" stroke="#3a3a3a" stroke-width="1"/>
 <!-- lid -->
 <path d="M281,350 C281,343 285,339.5 292,339.5 L366,339.5 C372,339.5 375,343 375,349 L375,360 C340,359 300,360 281,361 Z" fill="#1d1d1d"/>
 <path d="M283,360 C310,355 345,353 375,354" fill="none" stroke="#2e2e2e" stroke-width="1.2"/>
 <path d="M298,339.5 L301,335.5 L322,336 L326,339.5 Z" fill="#f07a24"/>
 <!-- cable -->
 <path d="M272,357 C262,361 254,372 253.5,388" fill="none" stroke="#1e1e1e" stroke-width="2.2"/>
 <rect x="271" y="352" width="10" height="9" rx="2" fill="#c9c9c9"/>
 <!-- orange cap -->
 <rect x="375.5" y="353" width="50" height="7" fill="#151515"/>
 <path d="M375.5,354 L375.5,348 C378,344 390,342 401,342 C412,342 423,344 426,348 L426,354 Z" fill="#f37a22"/>
 <path d="M376.8,344 L377,329.5 L394,330.4 L398,342 Z" fill="#f5832c"/>
 <path d="M400,342 L402,331.3 L423,334 L423,345 Z" fill="#f5832c"/>
 <path d="M359,320.5 L407,324 L407,331.5 L376,333 L359,328.7 Z" fill="#2a2a2a"/>
 <circle cx="400.5" cy="330" r="3.5" fill="#e2e2e2"/>
 <circle cx="398.5" cy="339" r="2.2" fill="#b8301c"/>
 <rect x="359.7" y="305" width="12.3" height="16" fill="#f27a22"/>
 <ellipse cx="365.8" cy="302" rx="11.4" ry="6.8" fill="#f57e25"/>
 <path d="M356,305 C360,309 372,309 376,305 L372,309 C368,311 363,311 359,309 Z" fill="#c85d16"/>
</g>

<!-- pipe top piece -->
<path d="M429,391 V362 H452.5 A5,5 0 0 1 457.5,367 V391 Z" fill="#b3e5fa"/>
<path d="M429,362 H452.5 A5,5 0 0 1 457.5,367 V391" fill="none" stroke="#2b4a63" stroke-width="1.3"/>
<path d="M455.5,360.5 H461 V389 L458.5,391.5 H455.5 Z" fill="#151515"/>

<!-- GRASS RIGHT -->
<g id="grassR">
<path fill="#5fa24f" d="M901.4,955.5 L896.8,952.9 L892.6,950.6 L888.5,948.4 L884.8,946.4 L881.3,944.6 L878.0,943.0 L875.0,941.5 L872.2,940.2 L869.7,939.0 L867.3,937.9 L865.2,936.8 L863.4,935.8 L861.7,934.8 L860.2,933.6 L860.2,933.6 L860.1,935.6 L860.4,937.8 L861.2,940.2 L862.3,942.8 L863.9,945.4 L865.8,948.0 L868.1,950.7 L870.8,953.3 L873.9,956.0 L877.3,958.6 L881.1,961.1 L885.2,963.6 L889.7,966.1 L894.6,968.5Z M919.5,962.0 L919.6,956.6 L919.3,951.4 L918.7,946.3 L917.9,941.3 L916.7,936.5 L915.2,931.9 L913.4,927.6 L911.3,923.4 L909.0,919.5 L906.5,915.9 L903.8,912.5 L901.0,909.3 L898.0,906.4 L895.0,903.8 L895.0,903.8 L896.1,907.6 L897.0,911.5 L897.6,915.4 L898.2,919.3 L898.6,923.2 L898.9,927.2 L899.1,931.2 L899.3,935.3 L899.5,939.5 L899.7,943.7 L899.9,948.1 L900.1,952.6 L900.3,957.2 L900.5,962.0Z M955.8,962.0 L956.0,953.2 L955.9,944.5 L955.3,936.2 L954.4,928.1 L953.2,920.2 L951.6,912.6 L949.7,905.3 L947.5,898.3 L945.0,891.6 L942.3,885.2 L939.4,879.2 L936.3,873.4 L933.1,868.1 L929.9,863.0 L929.9,863.0 L929.4,868.9 L928.8,875.0 L928.2,881.3 L927.4,887.6 L926.7,894.2 L925.9,900.9 L925.3,907.8 L924.7,914.9 L924.2,922.2 L923.9,929.7 L923.8,937.4 L923.7,945.3 L923.9,953.5 L924.2,962.0Z M982.5,962.0 L982.7,955.3 L982.6,948.8 L982.2,942.5 L981.6,936.4 L980.8,930.4 L979.8,924.7 L978.5,919.2 L977.1,913.9 L975.4,908.8 L973.7,903.9 L971.7,899.3 L969.7,894.9 L967.6,890.7 L965.5,886.8 L965.5,886.8 L965.2,891.2 L964.7,895.8 L964.2,900.5 L963.7,905.3 L963.2,910.2 L962.7,915.3 L962.2,920.6 L961.8,926.0 L961.5,931.6 L961.3,937.3 L961.2,943.2 L961.2,949.3 L961.3,955.5 L961.5,962.0Z M1010.5,962.0 L1010.7,951.4 L1010.6,941.2 L1010.3,931.2 L1009.7,921.5 L1008.9,912.1 L1008.0,903.1 L1006.8,894.3 L1005.4,885.9 L1003.8,877.7 L1002.2,869.9 L1000.3,862.4 L998.4,855.2 L996.4,848.3 L994.4,841.8 L994.4,841.8 L993.9,848.6 L993.4,855.7 L992.8,863.0 L992.1,870.6 L991.5,878.5 L990.9,886.6 L990.4,895.1 L990.0,903.8 L989.6,912.7 L989.4,922.0 L989.2,931.6 L989.2,941.4 L989.3,951.6 L989.5,962.0Z M1019.5,962.0 L1019.9,955.8 L1020.2,949.7 L1020.5,943.9 L1020.9,938.2 L1021.2,932.7 L1021.7,927.3 L1022.1,921.9 L1022.7,916.7 L1023.4,911.5 L1024.2,906.3 L1025.3,901.2 L1026.6,896.1 L1028.1,891.0 L1030.0,886.0 L1030.0,886.0 L1025.8,889.4 L1021.8,893.2 L1017.9,897.3 L1014.2,901.7 L1010.8,906.4 L1007.7,911.5 L1004.9,916.9 L1002.4,922.7 L1000.4,928.6 L998.7,934.9 L997.5,941.4 L996.7,948.1 L996.3,955.0 L996.5,962.0Z"/>
<path fill="#1b7b3f" d="M919.5,961.5 L919.2,958.1 L918.6,954.8 L917.7,951.6 L916.6,948.5 L915.3,945.6 L913.6,942.8 L911.8,940.2 L909.7,937.8 L907.5,935.5 L905.1,933.4 L902.6,931.5 L899.9,929.8 L897.1,928.2 L894.2,926.8 L894.2,926.8 L896.2,929.3 L898.1,931.8 L899.7,934.3 L901.1,936.8 L902.3,939.4 L903.4,941.9 L904.3,944.4 L905.1,946.9 L905.9,949.4 L906.5,951.9 L907.1,954.5 L907.6,957.1 L908.1,959.7 L908.5,962.5Z M940.0,962.0 L940.1,958.1 L939.9,954.4 L939.5,950.7 L938.9,947.2 L938.0,943.7 L937.0,940.4 L935.8,937.3 L934.4,934.3 L932.8,931.5 L931.0,928.8 L929.2,926.4 L927.2,924.1 L925.1,922.0 L923.0,920.0 L923.0,920.0 L923.9,922.7 L924.6,925.5 L925.2,928.2 L925.7,931.0 L926.1,933.9 L926.5,936.8 L926.7,939.7 L927.0,942.6 L927.2,945.6 L927.3,948.7 L927.5,951.9 L927.7,955.2 L927.8,958.5 L928.0,962.0Z M950.0,962.0 L950.0,957.7 L949.9,953.5 L949.7,949.4 L949.3,945.4 L948.8,941.5 L948.2,937.8 L947.4,934.2 L946.5,930.8 L945.5,927.5 L944.4,924.3 L943.2,921.3 L941.9,918.5 L940.6,915.8 L939.2,913.2 L939.2,913.2 L939.7,916.1 L940.1,919.0 L940.4,922.0 L940.7,925.2 L940.9,928.4 L941.1,931.7 L941.2,935.1 L941.3,938.6 L941.5,942.2 L941.6,945.9 L941.7,949.8 L941.8,953.7 L941.9,957.8 L942.0,962.0Z M958.5,962.0 L958.6,958.3 L958.7,954.7 L958.8,951.2 L958.9,947.7 L959.0,944.4 L959.2,941.2 L959.3,938.1 L959.4,935.1 L959.6,932.1 L959.8,929.2 L960.1,926.4 L960.4,923.6 L960.8,920.9 L961.3,918.3 L961.3,918.3 L959.8,920.5 L958.3,922.9 L956.9,925.4 L955.6,928.1 L954.4,930.9 L953.3,933.9 L952.4,937.0 L951.5,940.2 L950.8,943.5 L950.3,947.0 L949.8,950.6 L949.6,954.3 L949.4,958.1 L949.5,962.0Z M980.5,962.6 L981.3,956.1 L982.2,949.7 L983.2,943.6 L984.4,937.6 L985.7,931.7 L987.2,925.9 L988.8,920.3 L990.7,914.7 L992.8,909.1 L995.2,903.7 L997.9,898.3 L1000.9,893.0 L1004.3,887.7 L1008.0,882.6 L1008.0,882.6 L1002.8,886.3 L997.8,890.3 L993.0,894.5 L988.5,899.1 L984.2,904.0 L980.3,909.2 L976.8,914.8 L973.6,920.7 L970.8,926.8 L968.5,933.3 L966.5,940.0 L965.1,946.9 L964.0,954.0 L963.5,961.4Z M1002.9,963.1 L1003.7,959.9 L1004.4,956.7 L1005.3,953.6 L1006.3,950.5 L1007.4,947.4 L1008.8,944.2 L1010.3,940.9 L1012.1,937.6 L1014.2,934.1 L1016.6,930.6 L1019.4,927.1 L1022.5,923.6 L1026.1,920.1 L1030.0,916.6 L1030.0,916.6 L1025.0,918.2 L1020.1,919.9 L1015.5,921.9 L1011.1,924.1 L1006.9,926.5 L1002.9,929.2 L999.3,932.2 L996.0,935.5 L993.1,939.2 L990.5,943.1 L988.4,947.2 L986.8,951.6 L985.7,956.2 L985.1,960.9Z"/>
</g>

<!-- GROUND -->
<path d="M0,586 C19.2,586.2 76.7,586.5 115,587.5 C153.3,588.5 194.2,589.9 230,592 C265.8,594.1 301.7,597.6 330,600 C358.3,602.4 382.5,604.3 400,606.5 C417.5,608.7 425.8,610.2 435,613 C444.2,615.8 449.5,618.8 455,623 C460.5,627.2 463.9,632.0 468,638 C472.1,644.0 475.5,650.6 479.5,659 C483.5,667.4 487.8,678.2 492.2,688.4 C496.6,698.6 500.5,706.6 505.9,720 C511.3,733.4 518.1,753.8 524.4,768.8 C530.7,783.8 536.4,796.3 543.9,810 C551.4,823.7 560.2,839.0 569.3,851 C578.4,863.0 588.0,873.2 598.6,882.3 C609.2,891.4 620.9,898.4 632.8,905.7 C644.7,913.0 656.1,920.5 670,926 C683.9,931.5 697.7,935.2 716,938.5 C734.3,941.8 756.0,943.3 780,945.5 C804.0,947.7 832.7,949.8 860,951.5 C887.3,953.2 916.7,954.5 944,955.8 C971.3,957.1 1010.7,958.7 1024,959.3 L1024,1024 L0,1024 Z" fill="url(#soil)"/>
<path d="M0,586 C19.2,586.2 76.7,586.5 115,587.5 C153.3,588.5 194.2,589.9 230,592 C265.8,594.1 301.7,597.6 330,600 C358.3,602.4 382.5,604.3 400,606.5 C417.5,608.7 425.8,610.2 435,613 C444.2,615.8 449.5,618.8 455,623 C460.5,627.2 463.9,632.0 468,638 C472.1,644.0 475.5,650.6 479.5,659 C483.5,667.4 487.8,678.2 492.2,688.4 C496.6,698.6 500.5,706.6 505.9,720 C511.3,733.4 518.1,753.8 524.4,768.8 C530.7,783.8 536.4,796.3 543.9,810 C551.4,823.7 560.2,839.0 569.3,851 C578.4,863.0 588.0,873.2 598.6,882.3 C609.2,891.4 620.9,898.4 632.8,905.7 C644.7,913.0 656.1,920.5 670,926 C683.9,931.5 697.7,935.2 716,938.5 C734.3,941.8 756.0,943.3 780,945.5 C804.0,947.7 832.7,949.8 860,951.5 C887.3,953.2 916.7,954.5 944,955.8 C971.3,957.1 1010.7,958.7 1024,959.3" fill="none" stroke="url(#rim)" stroke-width="13.5" clip-path="url(#groundclip)"/>

<!-- PUMP -->
<g id="pump">
 <path d="M704,903 C696,900 689,903 689,912 C689,921 696,924 704,921" fill="none" stroke="#151515" stroke-width="2"/>
 <rect x="697" y="929.5" width="28" height="6" rx="2" fill="#141414"/>
 <rect x="697.5" y="900.5" width="7" height="30" rx="1.5" fill="#1d1d1d"/>
 <g stroke="#333" stroke-width="0.8"><path d="M698,904 H704 M698,908 H704 M698,912 H704 M698,916 H704 M698,920 H704 M698,924 H704 M698,928 H704"/></g>
 <rect x="718" y="892.4" width="27" height="37" rx="2" fill="#1e1e1e"/>
 <path d="M720,896 H744" stroke="#3c3c3c" stroke-width="1.5"/>
 <path d="M720,925 H744" stroke="#2c2c2c" stroke-width="1"/>
 <rect x="703" y="891.7" width="16" height="39" rx="5" fill="#202020"/>
 <path d="M706,895 V927" stroke="#3a3a3a" stroke-width="1.3"/>
 <path d="M716,894 V929" stroke="#111" stroke-width="1.3"/>
 <rect x="731" y="933" width="16.5" height="6.5" rx="1.5" fill="#141414"/>
 <path d="M758,885.6 H790 V937.5 L777.5,939 L758,938 Z" fill="#1a1a1a"/>
 <path d="M740.6,871.9 L754.3,871.2 L759.7,882.9 L772,903.4 L777.5,917 L777.5,939 L735,937.5 L742,923.9 L744.7,889.7 Z" fill="#161616"/>
 <path d="M755,875 L760,884 L771,903 L776,917" fill="none" stroke="#2e2e2e" stroke-width="1.2"/>
 <path d="M789.8,887 C800,884 810,881 818.5,879.5 C821,880 822.6,881 822.6,883 L822.6,898 L789.8,898 Z" fill="#191919"/>
 <path d="M792,890 C802,887 812,884 820,883" fill="none" stroke="#3a3a3a" stroke-width="1.3"/>
 <rect x="789.8" y="897" width="32.8" height="33" fill="#131313"/>
 <g stroke="#2c2c2c" stroke-width="1.6"><path d="M795,900.5 H820 M795,904.5 H820 M795,908.5 H820 M795,912.5 H820 M795,916.5 H820 M795,920.5 H820 M795,924.5 H820 M795,928.5 H820"/></g>
 <path d="M789.8,929.3 L822.6,929.3 L822.6,945.7 L813,944.4 C805,940 797,936 789.8,936 Z" fill="#181818"/>
 <rect x="766.6" y="870" width="22.4" height="13" rx="2" fill="#1b1b1b"/>
 <g stroke="#383838" stroke-width="1"><path d="M770,872 V881 M774,872 V881 M778,872 V881 M782,872 V881 M786,872 V881"/></g>
 <rect x="742" y="850" width="7.5" height="17" rx="2" fill="#2b2b2b"/>
 <path d="M743,854 H749 M743,863 H749" stroke="#555" stroke-width="1"/>
 <rect x="748.8" y="846" width="12.5" height="24.5" rx="2" fill="#1a1a1a"/>
 <g stroke="#363636" stroke-width="0.9"><path d="M749,850 H761 M749,854 H761 M749,858 H761 M749,862 H761 M749,866 H761"/></g>
 <rect x="761" y="848.7" width="6" height="19" fill="#151515"/>
 <circle cx="778.9" cy="856.9" r="14.4" fill="#1b1b1b"/>
 <path d="M768,868 C776,862 786,853 792,846" fill="none" stroke="#3a3a3a" stroke-width="1.4"/>
 <ellipse cx="772" cy="852" rx="3" ry="2.2" fill="#6a6a6a"/>
</g>

<!-- LABELS -->
<rect x="22" y="293" width="229" height="36.5" rx="5" fill="#fff"/>
<rect x="482.5" y="293" width="287" height="37" rx="5" fill="#fff"/>
<rect x="493" y="527" width="176" height="36.5" rx="5" fill="#fff"/>
<g class="t" font-size="22.8" font-weight="bold" fill="#1e1e1e">
 <text x="37.5" y="318">Discharge Sewage</text>
 <text x="492.6" y="318">Filtered Clean Water Out</text>
 <text x="505.3" y="552">Pond Water In</text>
</g>

<!-- TITLE -->
<g transform="translate(190.5,181) scale(0.64,1)">
 <text class="t" x="0" y="0" font-size="64" font-weight="bold" fill="#1f1f1f" stroke="#1f1f1f" stroke-width="2.4" letter-spacing="2.9"><tspan fill="#f4641e" stroke="#f4641e">HOW</tspan> TO CONNECT FOR USE?</text>
</g>
<text class="t" x="253" y="222" font-size="25.6" fill="#222">The filter needs to be used with a water pump</text>

<text class="t" x="509" y="973" font-size="22.7" fill="#fff">Need to purchase separately</text>
<path d="M639,946 V912 H678" fill="none" stroke="#fff" stroke-width="2" stroke-dasharray="4 3"/>
<circle cx="684" cy="910.5" r="6.3" fill="#fff"/>
</svg>
</body></html>
